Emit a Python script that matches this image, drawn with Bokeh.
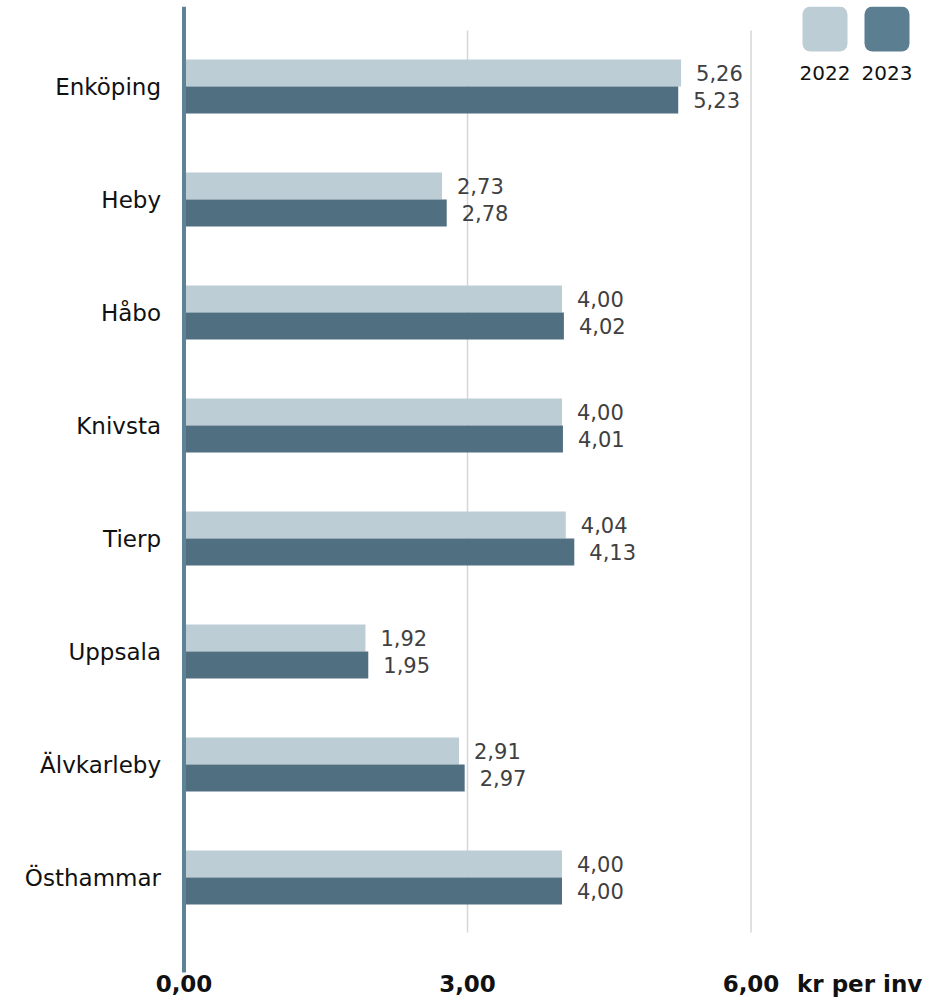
from bokeh.plotting import figure
from bokeh.models import Range1d, Label, BoxAnnotation, ColumnDataSource
from bokeh.core.properties import value
from bokeh.embed import file_html
from bokeh.resources import INLINE

categories = ["Enköping", "Heby", "Håbo", "Knivsta", "Tierp", "Uppsala", "Älvkarleby", "Östhammar"]
v2022 = [5.26, 2.73, 4.00, 4.00, 4.04, 1.92, 2.91, 4.00]
v2023 = [5.23, 2.78, 4.02, 4.01, 4.13, 1.95, 2.97, 4.00]
series = ["2022", "2023"]
x_ticks = [0, 3, 6]
x_unit = "kr per inv"

FONT = "DejaVu Sans"
C22 = "#bccdd5"
C23 = "#506f81"
C23_LEG = "#5b7f91"
AXIS_C = "#5e8296"

W, H = 931, 1000
TOP = 6
LEFT = 0
ZERO_PX = 183.5
PX_PER_UNIT = 94.5
CAT_PX = 113.0
FIRST_CENTER = 86.0 - TOP
frame_h = H - TOP

x_start = -(ZERO_PX - LEFT) / PX_PER_UNIT
x_end = x_start + (W - LEFT) / PX_PER_UNIT
y_top = -FIRST_CENTER / CAT_PX
y_bot = y_top + frame_h / CAT_PX

def fy(py):
    """picture-pixel row -> data y"""
    return y_top + (py - TOP) / CAT_PX

p = figure(width=W, height=H, output_backend="svg", toolbar_location=None,
           x_range=Range1d(x_start, x_end), y_range=Range1d(y_bot, y_top),
           min_border_left=0, min_border_right=0, min_border_top=TOP,
           min_border_bottom=0)
p.outline_line_color = None
p.background_fill_color = "white"
p.border_fill_color = "white"
p.xgrid.grid_line_color = None
p.ygrid.grid_line_color = None
p.xaxis.visible = False
p.yaxis.visible = False

# gridlines at 3 and 6 (not full height)
gx = [t for t in x_ticks if t > 0]
p.segment(x0=gx, x1=gx, y0=fy(30), y1=fy(932), line_color="#d6d6d6", line_width=1.5)

bh = 27 / CAT_PX
idx = list(range(len(categories)))
ys22 = [i - bh / 2 for i in idx]
ys23 = [i + bh / 2 for i in idx]

def fmt(v):
    return f"{v:.2f}".replace(".", ",")

src22 = ColumnDataSource(dict(y=ys22, v=v2022, lab=[fmt(v) for v in v2022]))
src23 = ColumnDataSource(dict(y=ys23, v=v2023, lab=[fmt(v) for v in v2023]))

p.hbar(y="y", left=0, right="v", height=bh, source=src22, fill_color=C22, line_color=None)
p.hbar(y="y", left=0, right="v", height=bh, source=src23, fill_color=C23, line_color=None)

for src in (src22, src23):
    p.text(x="v", y="y", text="lab", source=src, x_offset=15, text_baseline="middle",
           text_align="left", text_font=value(FONT), text_font_size="21px",
           text_color="#404040")

# value axis line at zero
p.segment(x0=[0], x1=[0], y0=y_top, y1=fy(972), line_color=AXIS_C, line_width=4)

# category labels
p.text(x=[0] * len(categories), y=idx, text=categories, x_offset=-23,
       text_font=value(FONT), text_font_size="23px", text_color="#111111",
       text_align="right", text_baseline="middle")

# value tick labels and unit
p.text(x=x_ticks, y=[fy(983)] * len(x_ticks), text=[fmt(t) for t in x_ticks],
       text_font=value(FONT), text_font_size="23px", text_font_style="bold",
       text_color="#111111", text_align="center", text_baseline="middle")
p.text(x=[x_ticks[-1]], y=[fy(983)], text=[x_unit], x_offset=46,
       text_font=value(FONT), text_font_size="23px", text_font_style="bold",
       text_color="#111111", text_align="left", text_baseline="middle")

# legend
for i, (name, col) in enumerate(zip(series, [C22, C23_LEG])):
    left_px = 802 + i * 62
    l = x_start + (left_px - LEFT) / PX_PER_UNIT
    r = x_start + (left_px + 45 - LEFT) / PX_PER_UNIT
    p.add_layout(BoxAnnotation(left=l, right=r, top=fy(6), bottom=fy(51),
                               fill_color=col, fill_alpha=1, line_color=None,
                               border_radius=8))
    p.add_layout(Label(x=(l + r) / 2, y=fy(72), text=name,
                       text_font=FONT, text_font_size="20px", text_color="#111111",
                       text_align="center", text_baseline="middle"))

open("out.html", "w").write(file_html(p, INLINE))
